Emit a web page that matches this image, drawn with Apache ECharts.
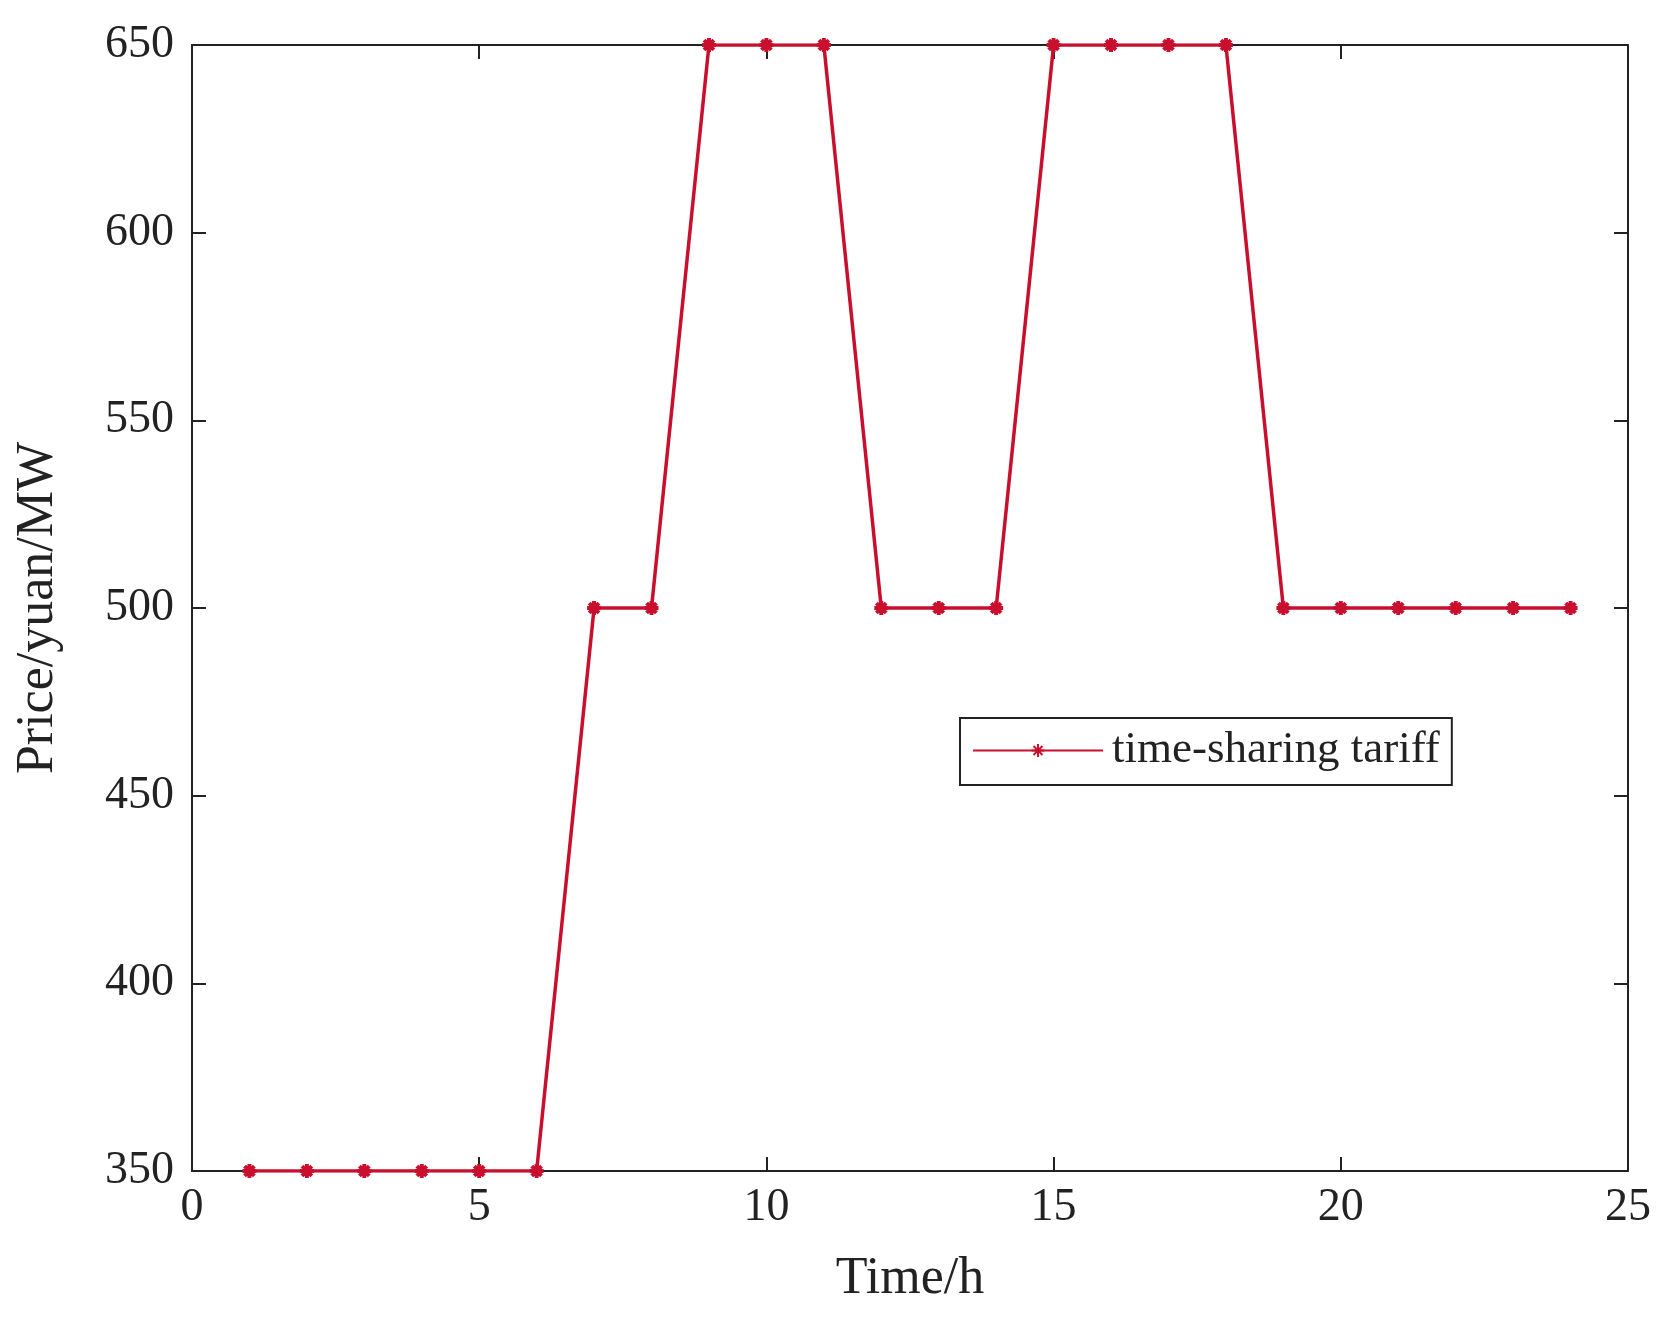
<!DOCTYPE html>
<html>
<head>
<meta charset="utf-8">
<script src="https://cdn.jsdelivr.net/npm/echarts@6/dist/echarts.min.js"></script>
<style>html,body{margin:0;background:#fff}#main{width:1673px;height:1331px}</style>
</head>
<body>
<div id="main"></div>
<script>
let hours = [1,2,3,4,5,6,7,8,9,10,11,12,13,14,15,16,17,18,19,20,21,22,23,24];
let price = [350,350,350,350,350,350,500,500,650,650,650,500,500,500,650,650,650,650,500,500,500,500,500,500];

let chart = echarts.init(document.getElementById('main'));
let font = 'Liberation Serif';
let red = '#c8102e';
// asterisk marker
let star = 'path://M5,0L5,10M0,5L10,5M1.5,1.5L8.5,8.5M8.5,1.5L1.5,8.5';

let axisBase = {
  axisLine: {show: true, onZero: false, lineStyle: {color: '#222', width: 2}},
  axisTick: {show: true, inside: true, length: 14, lineStyle: {color: '#222', width: 2}},
  splitLine: {show: false}
};

let option = {
  backgroundColor: '#fff',
  grid: {left: 192, right: 45, top: 45, bottom: 160},
  legend: {
    left: 960, top: 718,
    padding: [10, 12, 12, 12],
    borderColor: '#222', borderWidth: 2,
    itemWidth: 130, itemHeight: 16, itemGap: 0,
    textStyle: {fontFamily: font, fontSize: 45, color: '#222', padding: [0, 0, 0, 4]},
    data: ['time-sharing tariff']
  },
  xAxis: [
    Object.assign({}, axisBase, {
      type: 'value', min: 0, max: 25, interval: 5,
      name: 'Time/h', nameLocation: 'middle', nameGap: 82,
      nameTextStyle: {fontFamily: font, fontSize: 52, color: '#222'},
      axisLabel: {fontFamily: font, fontSize: 46, color: '#222', margin: 14}
    }),
    Object.assign({}, axisBase, {
      type: 'value', min: 0, max: 25, interval: 5, position: 'top',
      axisLabel: {show: false}
    })
  ],
  yAxis: [
    Object.assign({}, axisBase, {
      type: 'value', min: 350, max: 650, interval: 50,
      name: 'Price/yuan/MW', nameLocation: 'middle', nameGap: 128,
      nameTextStyle: {fontFamily: font, fontSize: 52, color: '#222'},
      axisLabel: {fontFamily: font, fontSize: 46, color: '#222', margin: 18}
    }),
    Object.assign({}, axisBase, {
      type: 'value', min: 350, max: 650, interval: 50, position: 'right',
      axisLabel: {show: false}
    })
  ],
  series: [{
    name: 'time-sharing tariff',
    type: 'line',
    data: hours.map((h, i) => [h, price[i]]),
    symbol: star,
    symbolSize: 14,
    lineStyle: {color: red, width: 3.5},
    itemStyle: {color: red, borderColor: red, borderWidth: 4},
    animation: false
  }]
};

chart.setOption(option);
</script>
</body>
</html>
